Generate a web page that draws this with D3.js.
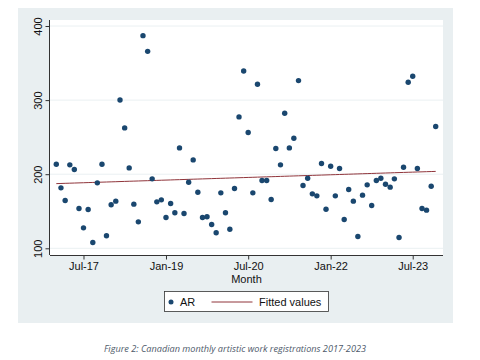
<!DOCTYPE html>
<html><head><meta charset="utf-8">
<script src="https://cdn.jsdelivr.net/npm/d3@7"></script>
<style>body{margin:0;background:#fff}svg{display:block}</style>
</head><body>
<script>
const startMonth = "2017-01";
const values = [213.5,181.6,164.5,212.6,206.3,153.7,127.6,152.4,107.9,188.3,213.5,116.9,
158.7,163.6,300.2,262.5,208.5,159.6,135.7,387,365.8,193.7,162.7,165.4,
141.6,160.4,147.9,235.5,147.0,189.2,219.3,175.7,141.6,142.5,132.1,120.9,
174.8,147.9,125.8,180.7,277.3,339.3,256.2,174.8,321.3,191.5,191.5,165.8,
234.6,212.6,282.2,235.5,248.5,326.3,184.7,194.6,173.5,170.8,214.4,152.8,
210.8,170.8,207.6,138.9,179.3,163.6,116,171.7,185.6,157.8,191.5,194.6,
186.5,182.5,193.7,114.6,209.4,324,332.1,207.6,153.7,151.5,183.8,264.3];
const xTickLabels = ["Jul-17","Jan-19","Jul-20","Jan-22","Jul-23"];
const yTicks = [100,200,300,400];
const legendLabels = ["AR","Fitted values"];
const caption = "Figure 2: Canadian monthly artistic work registrations 2017-2023";

const parse = d3.timeParse("%Y-%m");
const parseTick = d3.timeParse("%b-%y");
const start = parse(startMonth);
const dates = values.map((v,i)=>d3.timeMonth.offset(start,i));
const data = values.map((v,i)=>({date:dates[i], v}));

const W=480,H=360;
const svg=d3.select("body").append("svg").attr("width",W).attr("height",H);
const font="'Liberation Sans', Arial, sans-serif";

// outer graph region
svg.append("rect").attr("x",18).attr("y",8).attr("width",435).attr("height",315).attr("fill","#e9eff1");
// plot region
const L=50,R=443,T=20,B=255;
svg.append("rect").attr("x",L).attr("y",T).attr("width",R-L).attr("height",B-T).attr("fill","#fff");

const x=d3.scaleTime().domain([dates[0],dates[dates.length-1]]).range([56.3,435.7]);
const y=d3.scaleLinear().domain([100,400]).range([248.3,26]);

// grid
svg.append("g").selectAll("line").data(yTicks).join("line")
 .attr("x1",L).attr("x2",R).attr("y1",d=>y(d)).attr("y2",d=>y(d))
 .attr("stroke","#eaf0f2").attr("stroke-width",1);

// axes
const yAxis=svg.append("g").attr("transform",`translate(${L-0.5},0)`)
 .call(d3.axisLeft(y).tickValues(yTicks).tickSize(4).tickPadding(3).tickFormat(d3.format("d")));
yAxis.select(".domain").attr("d",`M0,${T}V${B}`).attr("stroke","#333");
yAxis.selectAll(".tick line").attr("stroke","#333");
yAxis.selectAll(".tick text").attr("font-family",font).attr("font-size",11).attr("fill","#111")
 .attr("transform","rotate(-90)").attr("text-anchor","middle").attr("x",0).attr("dy",0)
 .attr("y",-8);

const xAxis=svg.append("g").attr("transform",`translate(0,${B+0.5})`)
 .call(d3.axisBottom(x).tickValues(xTickLabels.map(parseTick)).tickSize(4).tickPadding(3).tickFormat(d3.timeFormat("%b-%y")));
xAxis.select(".domain").attr("d",`M${L},0H${R}`).attr("stroke","#333");
xAxis.selectAll(".tick line").attr("stroke","#333");
xAxis.selectAll(".tick text").attr("font-family",font).attr("font-size",11).attr("fill","#111");

svg.append("text").attr("x",(L+R)/2).attr("y",283).attr("text-anchor","middle")
 .attr("font-family",font).attr("font-size",11).attr("fill","#111").text("Month");

// fitted values (OLS)
const xs=values.map((v,i)=>i);
const mx=d3.mean(xs), my=d3.mean(values);
const b=d3.sum(xs,(xi,i)=>(xi-mx)*(values[i]-my))/d3.sum(xs,xi=>(xi-mx)**2);
const a=my-b*mx;
const fit=data.map((d,i)=>({date:d.date,v:a+b*i}));
svg.append("path").datum(fit).attr("fill","none").attr("stroke","#90353b").attr("stroke-width",1)
 .attr("d",d3.line().x(d=>x(d.date)).y(d=>y(d.v)));

// points
svg.append("g").selectAll("circle").data(data).join("circle")
 .attr("cx",d=>x(d.date)).attr("cy",d=>y(d.v)).attr("r",2.7).attr("fill","#1a476f");

// legend
const lg=svg.append("g");
lg.append("rect").attr("x",164.5).attr("y",291.5).attr("width",164).attr("height",20)
 .attr("fill","#fff").attr("stroke","#333").attr("stroke-width",0.8);
lg.append("circle").attr("cx",171).attr("cy",302).attr("r",2.5).attr("fill","#1a476f");
lg.append("text").attr("x",180).attr("y",306).attr("font-family",font).attr("font-size",11).attr("fill","#111").text(legendLabels[0]);
lg.append("line").attr("x1",211.5).attr("x2",252.5).attr("y1",302).attr("y2",302).attr("stroke","#90353b").attr("stroke-width",1);
lg.append("text").attr("x",259).attr("y",306).attr("font-family",font).attr("font-size",11).attr("fill","#111").text(legendLabels[1]);

// caption
svg.append("text").attr("x",104).attr("y",352).attr("font-family","'Open Sans', sans-serif")
 .attr("font-style","italic").attr("font-size",8.5).attr("fill","#4e5a6a")
 .attr("textLength",262).attr("lengthAdjust","spacingAndGlyphs").text(caption);
</script>
</body></html>
